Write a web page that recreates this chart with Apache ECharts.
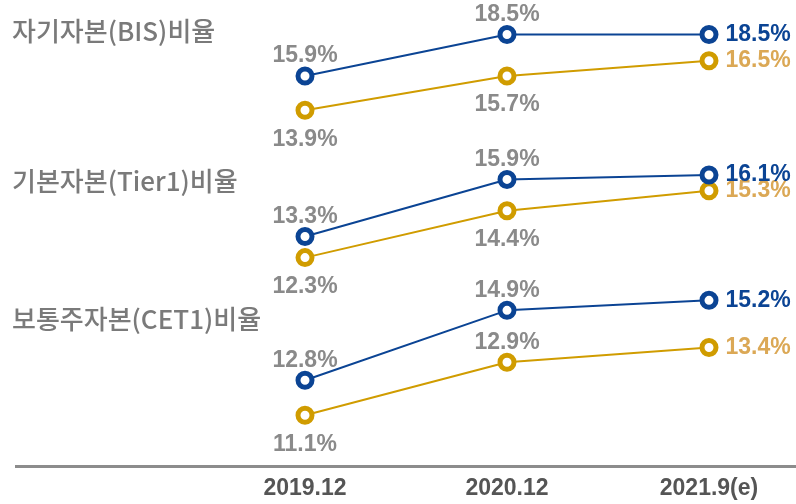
<!DOCTYPE html>
<html>
<head>
<meta charset="utf-8">
<script src="https://cdn.jsdelivr.net/npm/echarts@6/dist/echarts.min.js"></script>
<style>
  html, body { margin: 0; padding: 0; background: #fff; }
  #main { width: 796px; height: 504px; }
</style>
</head>
<body>
<div id="main"></div>
<script>
// 자본비율 추이
const categories = ['2019.12', '2020.12', '2021.9(e)'];
const groupNames = ['자기자본(BIS)비율', '기본자본(Tier1)비율', '보통주자본(CET1)비율'];
const bisBlue = [15.9, 18.5, 18.5];
const bisGold = [13.9, 15.7, 16.5];
const tier1Blue = [13.3, 15.9, 16.1];
const tier1Gold = [12.3, 14.4, 15.3];
const cet1Blue = [12.8, 14.9, 15.2];
const cet1Gold = [11.1, 12.9, 13.4];

const BLUE = '#0b4494';
const GOLD = '#d09c00';
const LABEL_GRAY = '#8a8a8a';
const FONT = "'Liberation Sans', Arial, sans-serif";
const KR_FONT = "'Noto Sans CJK KR', sans-serif";

const chart = echarts.init(document.getElementById('main'));

// 그림이 비율대로 그려져 있지 않아서 선마다 따로 grid / y축 범위를 잡음
const grids = [
  { top: 32.3, height: 114, min: 12, max: 18 },    // BIS gold
  { top: 10.6, height: 127.6, min: 12, max: 20 },  // BIS blue
  { top: 152.8, height: 133.8, min: 11, max: 17 }, // Tier1 gold
  { top: 155.3, height: 131.6, min: 11, max: 17 }, // Tier1 blue
  { top: 271, height: 176.6, min: 10, max: 16 },   // CET1 gold
  { top: 273.7, height: 199.8, min: 10, max: 16 }  // CET1 blue
];
const AXIS_Y = 466.5;

// 라벨 위치 (마지막 점은 오른쪽)
const bluePos = [['top', 'top', 'right'], ['top', 'top', 'right'], ['top', 'top', 'right']];
const goldPos = [['bottom', 'bottom', 'right'], ['bottom', 'bottom', 'right'], ['bottom', 'top', 'right']];

function makeSeries(values, idx, color, rightColor, pos) {
  return {
    type: 'line',
    xAxisIndex: idx,
    yAxisIndex: idx,
    symbol: 'circle',
    symbolSize: 14,
    lineStyle: { color: color, width: 2 },
    itemStyle: { color: '#fff', borderColor: color, borderWidth: 5 },
    emphasis: { disabled: true },
    z: 3,
    data: values.map((v, i) => ({
      value: v,
      label: {
        show: true,
        position: pos[i],
        distance: pos[i] === 'right' ? 7 : (pos[i] === 'top' ? -1 : 8),
        color: pos[i] === 'right' ? rightColor : LABEL_GRAY
      }
    })),
    label: {
      formatter: p => p.value.toFixed(1) + '%',
      fontFamily: FONT,
      fontWeight: 'bold',
      fontSize: 23
    }
  };
}

const series = [];
[[bisBlue, bisGold], [tier1Blue, tier1Gold], [cet1Blue, cet1Gold]].forEach((pair, i) => {
  series.push(makeSeries(pair[1], i * 2, GOLD, '#dba855', goldPos[i]));
  series.push(makeSeries(pair[0], i * 2 + 1, BLUE, BLUE, bluePos[i]));
});

// 제목: 괄호 안 영문은 좁은 글꼴로
function titleText(name) {
  const m = name.match(/^(.*?)(\(.*\))(.*)$/);
  return '{k|' + m[1] + '}{e|' + m[2] + '}{k|' + m[3] + '}';
}

const option = {
  animation: false,
  title: groupNames.map((name, i) => ({
    text: titleText(name),
    left: 12,
    top: [18, 168, 306][i],
    padding: 0,
    textStyle: {
      fontFamily: KR_FONT,
      fontWeight: 500,
      fontSize: 26,
      color: '#7a7a7a',
      rich: {
        k: { fontFamily: KR_FONT, fontWeight: 500, fontSize: 26, color: '#7a7a7a' },
        e: { fontFamily: "'Liberation Sans Narrow', " + KR_FONT, fontSize: 26, color: '#7a7a7a' }
      }
    }
  })),
  grid: grids.map(g => ({ left: 305, right: 87, top: g.top, height: g.height })),
  xAxis: grids.map((g, i) => ({
    type: 'category',
    gridIndex: i,
    data: categories,
    boundaryGap: false,
    show: i === 4,
    offset: AXIS_Y - (g.top + g.height),
    axisLine: { show: false },
    axisTick: { show: false },
    axisLabel: {
      margin: 11,
      fontFamily: FONT,
      fontWeight: 'bold',
      fontSize: 23,
      color: '#555'
    }
  })),
  yAxis: grids.map((g, i) => ({
    type: 'value',
    gridIndex: i,
    min: g.min,
    max: g.max,
    show: false
  })),
  graphic: [{
    type: 'line',
    shape: { x1: 15, y1: AXIS_Y, x2: 796, y2: AXIS_Y },
    style: { stroke: '#8c8c8c', lineWidth: 3 }
  }],
  series: series
};

chart.setOption(option);
</script>
</body>
</html>
